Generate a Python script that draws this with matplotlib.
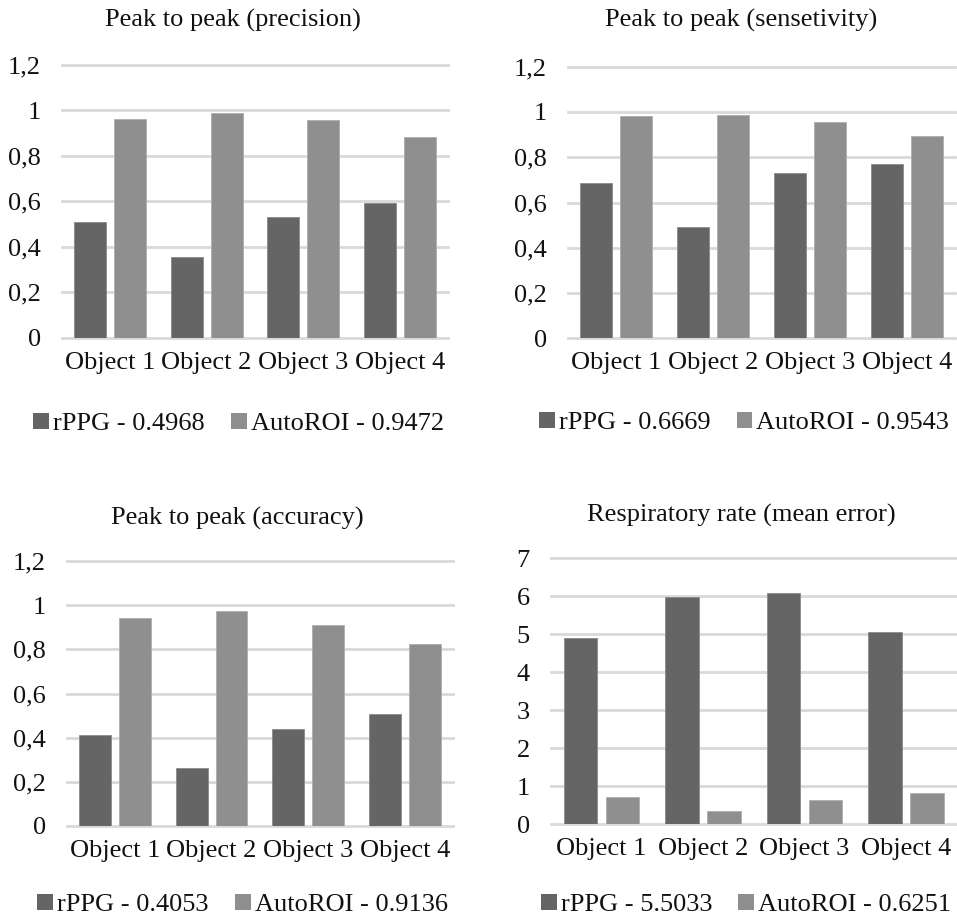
import matplotlib
matplotlib.use("Agg")
import matplotlib.pyplot as plt
from matplotlib.patches import Patch
import numpy as np

plt.rcParams['font.family'] = ['Liberation Serif', 'DejaVu Serif']

categories = ["Object 1", "Object 2", "Object 3", "Object 4"]

precision_rppg = [0.511, 0.357, 0.533, 0.592]
precision_auto = [0.962, 0.988, 0.956, 0.885]
sensitivity_rppg = [0.685, 0.493, 0.729, 0.770]
sensitivity_auto = [0.982, 0.988, 0.954, 0.895]
accuracy_rppg = [0.412, 0.260, 0.440, 0.505]
accuracy_auto = [0.944, 0.976, 0.911, 0.825]
resp_rppg = [4.89, 5.98, 6.10, 5.05]
resp_auto = [0.72, 0.35, 0.63, 0.82]

titles = ["Peak to peak (precision)", "Peak to peak (sensetivity)",
          "Peak to peak (accuracy)", "Respiratory rate (mean error)"]
legend_rppg = ["rPPG - 0.4968", "rPPG - 0.6669", "rPPG - 0.4053", "rPPG - 5.5033"]
legend_auto = ["AutoROI - 0.9472", "AutoROI - 0.9543", "AutoROI - 0.9136", "AutoROI - 0.6251"]

yticks_pp = [0, 0.2, 0.4, 0.6, 0.8, 1.0, 1.2]
yticklabels_pp = ["0", "0,2", "0,4", "0,6", "0,8", "1", "1,2"]
yticks_rr = [0, 1, 2, 3, 4, 5, 6, 7]
yticklabels_rr = ["0", "1", "2", "3", "4", "5", "6", "7"]

DARK = "#656565"
LIGHT = "#8f8f8f"
GRID = "#d9d9d9"
TEXT = "#111111"
FS = 19

W, H = 957, 917
fig = plt.figure(figsize=(W / 100, H / 100), dpi=100)

def frac_rect(x0, y0, x1, y1):
    return [x0 / W, 1 - y1 / H, (x1 - x0) / W, (y1 - y0) / H]

panels = [
    dict(rect=frac_rect(61.7, 65.0, 448.3, 337.7), r=precision_rppg, a=precision_auto,
         yt=yticks_pp, ytl=yticklabels_pp, ylim=1.2, title_xy=(233, 26.5), leg_xy=(238.5, 424)),
    dict(rect=frac_rect(568.0, 66.7, 955.0, 338.3), r=sensitivity_rppg, a=sensitivity_auto,
         yt=yticks_pp, ytl=yticklabels_pp, ylim=1.2, title_xy=(741, 27), leg_xy=(744, 423)),
    dict(rect=frac_rect(66.7, 561.3, 453.0, 825.7), r=accuracy_rppg, a=accuracy_auto,
         yt=yticks_pp, ytl=yticklabels_pp, ylim=1.2, title_xy=(237.5, 525), leg_xy=(242.5, 905)),
    dict(rect=frac_rect(550.7, 558.3, 956.7, 824.3), r=resp_rppg, a=resp_auto,
         yt=yticks_rr, ytl=yticklabels_rr, ylim=7, title_xy=(741, 521.5), leg_xy=(746, 905)),
]

x = np.arange(len(categories))
off = 0.207
bw = 0.33

for i, p in enumerate(panels):
    ax = fig.add_axes(p["rect"])
    ax.bar(x - off, p["r"], width=bw, color=DARK, edgecolor="#8a8a8a", linewidth=0.6, zorder=3)
    ax.bar(x + off, p["a"], width=bw, color=LIGHT, edgecolor="#adadad", linewidth=0.6, zorder=3)
    ax.set_xlim(-0.5, len(categories) - 0.5)
    ax.set_ylim(0, p["ylim"])
    ax.set_yticks(p["yt"])
    ax.set_yticklabels(p["ytl"], fontsize=FS)
    ax.set_xticks(x)
    ax.set_xticklabels(categories, fontsize=FS)
    ax.tick_params(axis="both", length=0, colors=TEXT)
    ax.tick_params(axis="y", pad=15)
    ax.tick_params(axis="x", pad=10)
    for s in ax.spines.values():
        s.set_visible(False)
    ax.yaxis.grid(True, color=GRID, linewidth=2)
    ax.set_axisbelow(True)
    for gl in ax.yaxis.get_gridlines():
        gl.set_clip_on(False)

    tx, ty = p["title_xy"]
    fig.text(tx / W, 1 - ty / H, titles[i], ha="center", va="baseline",
             fontsize=FS, color=TEXT)

    handles = [Patch(facecolor=DARK, edgecolor="none"), Patch(facecolor=LIGHT, edgecolor="none")]
    lx, ly = p["leg_xy"]
    fig.legend(handles, [legend_rppg[i], legend_auto[i]], loc="center",
               bbox_to_anchor=(lx / W, 1 - ly / H), ncol=2, frameon=False,
               fontsize=FS, handlelength=0.6, handleheight=0.6, handletextpad=0.15,
               columnspacing=1.0, borderpad=0, borderaxespad=0, labelcolor=TEXT)

fig.savefig("out.png", dpi=100, facecolor="white")
